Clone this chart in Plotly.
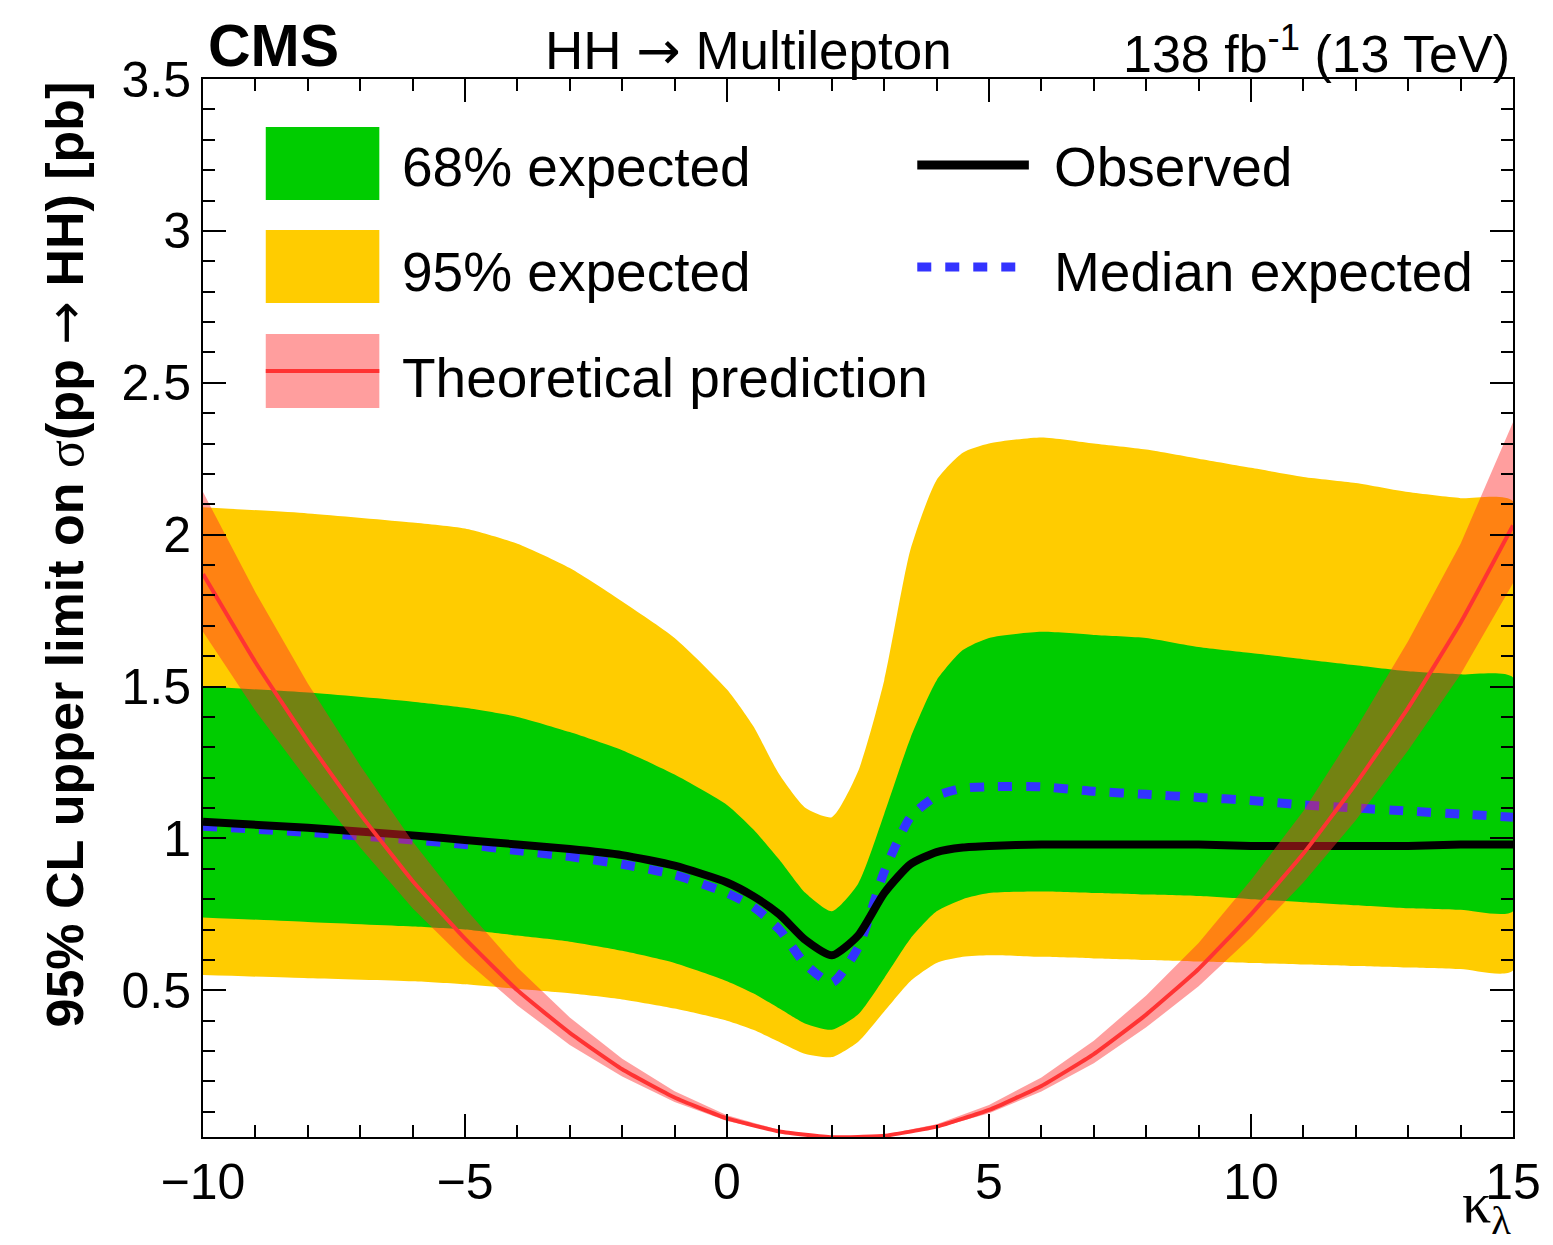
import plotly.graph_objects as go

# ---------------- data ----------------
kl = [-10, -8, -6, -5, -4, -3, -2, -1, 0, 0.5, 1, 1.5, 2, 2.5, 3, 3.5, 4, 4.5,
      5, 6, 7, 8, 9, 10, 11, 12, 13, 14, 15]

exp95_up = [2.09, 2.07, 2.04, 2.02, 1.97, 1.89, 1.78, 1.66, 1.49, 1.37, 1.21, 1.10,
            1.07, 1.22, 1.52, 1.95, 2.18, 2.27, 2.30, 2.32, 2.30, 2.28, 2.25, 2.22,
            2.19, 2.17, 2.14, 2.12, 2.11]
exp68_up = [1.50, 1.48, 1.45, 1.43, 1.40, 1.35, 1.29, 1.21, 1.11, 1.03, 0.93, 0.82,
            0.76, 0.85, 1.08, 1.33, 1.52, 1.62, 1.66, 1.68, 1.67, 1.66, 1.63, 1.61,
            1.59, 1.57, 1.55, 1.54, 1.53]
exp68_dn = [0.74, 0.725, 0.71, 0.70, 0.68, 0.66, 0.63, 0.59, 0.53, 0.49, 0.44, 0.39,
            0.37, 0.42, 0.54, 0.67, 0.76, 0.80, 0.82, 0.825, 0.82, 0.815, 0.81, 0.80,
            0.79, 0.78, 0.77, 0.765, 0.76]
exp95_dn = [0.55, 0.54, 0.53, 0.52, 0.505, 0.49, 0.47, 0.44, 0.40, 0.37, 0.33, 0.29,
            0.28, 0.33, 0.43, 0.53, 0.59, 0.61, 0.615, 0.61, 0.605, 0.60, 0.595, 0.59,
            0.585, 0.58, 0.575, 0.57, 0.565]
observed = [1.055, 1.035, 1.01, 0.995, 0.98, 0.965, 0.945, 0.91, 0.855, 0.81, 0.75,
            0.665, 0.615, 0.68, 0.82, 0.915, 0.955, 0.97, 0.975, 0.98, 0.98, 0.98,
            0.98, 0.975, 0.975, 0.975, 0.975, 0.98, 0.98]
median = [1.04, 1.02, 0.995, 0.98, 0.96, 0.94, 0.915, 0.88, 0.82, 0.775, 0.70, 0.585,
          0.525, 0.64, 0.89, 1.07, 1.14, 1.165, 1.17, 1.17, 1.155, 1.145, 1.135, 1.125,
          1.11, 1.10, 1.09, 1.08, 1.07]

kl_th = [-10, -9, -8, -7, -6, -5, -4, -3, -2, -1, 0, 1, 2, 3, 4, 5, 6, 7, 8, 9, 10,
         11, 12, 13, 14, 15]
theory = [1.87, 1.58, 1.32, 1.08, 0.86, 0.67, 0.50, 0.36, 0.24, 0.147, 0.078, 0.035,
          0.016, 0.021, 0.051, 0.106, 0.185, 0.29, 0.42, 0.57, 0.75, 0.95, 1.18, 1.43,
          1.71, 2.03]
theory_up = [2.14, 1.81, 1.51, 1.24, 0.99, 0.77, 0.575, 0.41, 0.275, 0.168, 0.089,
             0.040, 0.018, 0.024, 0.059, 0.122, 0.213, 0.334, 0.483, 0.656, 0.863,
             1.09, 1.36, 1.65, 1.97, 2.37]
theory_dn = [1.68, 1.42, 1.19, 0.97, 0.77, 0.60, 0.45, 0.32, 0.216, 0.132, 0.070,
             0.0315, 0.0144, 0.019, 0.046, 0.095, 0.167, 0.26, 0.378, 0.513, 0.675,
             0.855, 1.06, 1.29, 1.54, 1.84]

x_ticks = [-10, -5, 0, 5, 10, 15]
y_ticks = [0.5, 1, 1.5, 2, 2.5, 3, 3.5]

# ---------------- styling ----------------
W, H = 1553, 1245
L, R, T, B = 203, 1518, 79, 1137
FONT = "Liberation Sans, Arial, Helvetica, sans-serif"
SERIF = "Liberation Serif, DejaVu Serif, serif"
YELLOW = "#ffcc00"
GREEN = "#00cc00"
PINK_FILL = "rgba(255,40,40,0.45)"
RED = "#ff3333"
BLUE = "#3333ff"
ARROW = "<span style=\"font-family:DejaVu Sans;font-weight:normal\">\u2192</span>"


def px(xp):
    return (xp - L) / (R - L)


def py(yp):
    return (B - yp) / (B - T)


def band(xs, up, dn):
    return list(xs) + list(xs)[::-1], list(up) + list(dn)[::-1]


fig = go.Figure()

bx, by = band(kl, exp95_up, exp95_dn)
fig.add_trace(go.Scatter(x=bx, y=by, fill="toself", fillcolor=YELLOW,
                         line=dict(width=0, color=YELLOW, shape="spline", smoothing=0.6),
                         mode="lines", hoverinfo="skip", showlegend=False))
bx, by = band(kl, exp68_up, exp68_dn)
fig.add_trace(go.Scatter(x=bx, y=by, fill="toself", fillcolor=GREEN,
                         line=dict(width=0, color=GREEN, shape="spline", smoothing=0.6),
                         mode="lines", hoverinfo="skip", showlegend=False))
fig.add_trace(go.Scatter(x=kl, y=median, mode="lines",
                         line=dict(color=BLUE, width=9, dash="14px,14px",
                                   shape="spline", smoothing=0.6),
                         showlegend=False))
fig.add_trace(go.Scatter(x=kl, y=observed, mode="lines",
                         line=dict(color="black", width=8, shape="spline", smoothing=0.6),
                         showlegend=False))
bx, by = band(kl_th, theory_up, theory_dn)
fig.add_trace(go.Scatter(x=bx, y=by, fill="toself", fillcolor=PINK_FILL,
                         line=dict(width=0, color=PINK_FILL), mode="lines",
                         hoverinfo="skip", showlegend=False))
fig.add_trace(go.Scatter(x=kl_th, y=theory, mode="lines",
                         line=dict(color=RED, width=4, shape="spline", smoothing=0.4),
                         showlegend=False))

# ---------------- legend drawn as shapes ----------------
shapes = []
shapes.append(dict(type="rect", xref="paper", yref="paper", x0=px(266), x1=px(380),
                   y0=py(200), y1=py(127), fillcolor=GREEN, line=dict(width=0), layer="above"))
shapes.append(dict(type="rect", xref="paper", yref="paper", x0=px(266), x1=px(380),
                   y0=py(303), y1=py(230), fillcolor=YELLOW, line=dict(width=0), layer="above"))
shapes.append(dict(type="rect", xref="paper", yref="paper", x0=px(266), x1=px(380),
                   y0=py(408), y1=py(334), fillcolor=PINK_FILL, line=dict(width=0), layer="above"))
shapes.append(dict(type="line", xref="paper", yref="paper", x0=px(266), x1=px(380),
                   y0=py(371), y1=py(371), line=dict(color=RED, width=4), layer="above"))
shapes.append(dict(type="line", xref="paper", yref="paper", x0=px(920), x1=px(1032),
                   y0=py(165), y1=py(165), line=dict(color="black", width=9), layer="above"))
shapes.append(dict(type="line", xref="paper", yref="paper", x0=px(920), x1=px(1032),
                   y0=py(267), y1=py(267), line=dict(color=BLUE, width=9, dash="14px,14px"),
                   layer="above"))

ann = []
def text(xp, yp, s, size, xanchor="left", yanchor="middle", family=FONT, angle=0):
    ann.append(dict(x=px(xp), y=py(yp), xref="paper", yref="paper", text=s,
                    showarrow=False, xanchor=xanchor, yanchor=yanchor, textangle=angle,
                    font=dict(family=family, size=size, color="black")))

LEGF = 55
text(401, 167, "68% expected", LEGF)
text(401, 272, "95% expected", LEGF)
text(401, 378, "Theoretical prediction", LEGF)
text(1055, 167, "Observed", LEGF)
text(1055, 272, "Median expected", LEGF)

text(206, 46, "<b>CMS</b>", 59)
text(751, 50, "HH " + ARROW + " Multilepton", 53, xanchor="center")
text(1517, 50, "138 fb<sup>-1</sup> (13 TeV)", 52, xanchor="right")
# x-axis title: kappa with lambda subscript
text(1518, 1245, "\u03ba<sub>\u03bb</sub>", 58, xanchor="right", yanchor="bottom", family=SERIF)

ann.append(dict(x=px(64), y=py(80), xref="paper", yref="paper",
                text="<b>95% CL upper limit on </b><span style=\"font-family:Liberation Serif\">\u03c3</span><b>(pp </b>"
                     + ARROW + "<b> HH) [pb]</b>",
                showarrow=False, xanchor="center", yanchor="top", textangle=-90,
                font=dict(family=FONT, size=52, color="black")))

fig.update_layout(
    width=W, height=H,
    margin=dict(l=L, r=W - R, t=T, b=H - B, pad=0),
    paper_bgcolor="white", plot_bgcolor="white",
    shapes=shapes, annotations=ann, showlegend=False,
    font=dict(family=FONT, color="black"),
)
fig.update_xaxes(
    range=[-10, 15], tickvals=x_ticks, ticktext=["\u221210", "\u22125", "0", "5", "10", "15"],
    ticks="inside", ticklen=23, tickwidth=2, tickcolor="black",
    minor=dict(ticks="inside", ticklen=12, dtick=1, tickwidth=2, tickcolor="black", showgrid=False),
    showline=True, linecolor="black", linewidth=2, mirror="allticks",
    showgrid=False, zeroline=False, tickfont=dict(size=50, family=FONT, color="black"),
    layer="above traces",
)
fig.update_yaxes(
    range=[0.017, 3.5], tickvals=y_ticks, ticktext=["0.5", "1", "1.5", "2", "2.5", "3", "3.5"],
    ticks="inside", ticklen=23, tickwidth=2, tickcolor="black",
    minor=dict(ticks="inside", ticklen=12, dtick=0.1, tick0=0, tickwidth=2, tickcolor="black", showgrid=False),
    showline=True, linecolor="black", linewidth=2, mirror="allticks",
    showgrid=False, zeroline=False, tickfont=dict(size=50, family=FONT, color="black"),
    layer="above traces",
)

fig.write_html("out.html")
